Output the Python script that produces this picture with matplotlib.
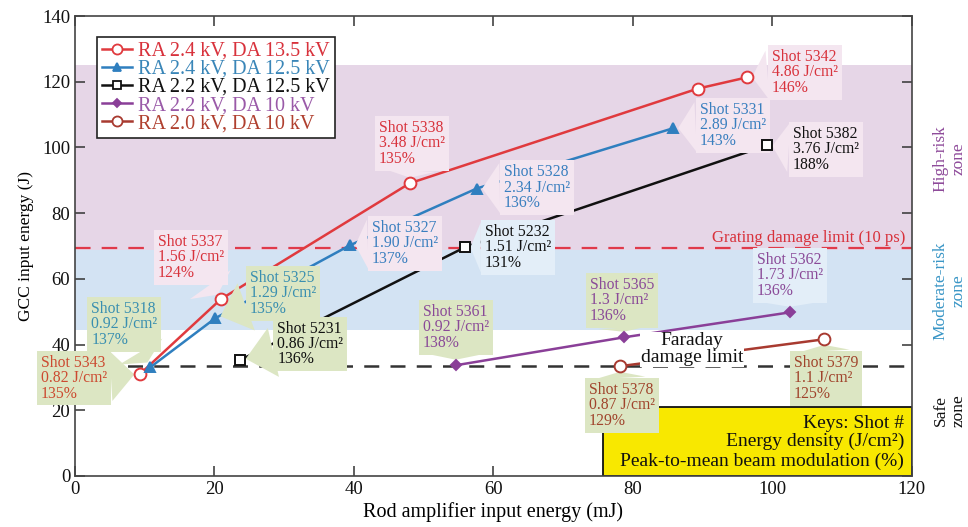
import matplotlib
matplotlib.use("Agg")
import matplotlib.pyplot as plt
from matplotlib.lines import Line2D
from matplotlib.patches import Rectangle

plt.rcParams['font.family'] = ['Liberation Serif', 'DejaVu Serif']

# ---------------- data ----------------
series_labels = ["RA 2.4 kV, DA 13.5 kV", "RA 2.4 kV, DA 12.5 kV", "RA 2.2 kV, DA 12.5 kV",
                 "RA 2.2 kV, DA 10 kV", "RA 2.0 kV, DA 10 kV"]
red_x = [9.3, 20.9, 48.0, 89.3, 96.3]
red_y = [31.0, 53.8, 89.1, 117.9, 121.3]
blue_x = [10.8, 20.1, 39.4, 57.6, 85.7]
blue_y = [33.1, 48.0, 70.2, 87.5, 105.8]
black_x = [23.7, 55.9, 99.2]
black_y = [35.3, 69.6, 100.6]
purple_x = [54.6, 78.7, 102.5]
purple_y = [33.7, 42.2, 49.8]
brown_x = [78.1, 107.4]
brown_y = [33.4, 41.6]

grating_limit = 69.5
faraday_limit = 33.6
high_risk_zone = (68.7, 125.0)
moderate_risk_zone = (44.4, 68.7)

keys_lines = ["Keys: Shot #", "Energy density (J/cm²)", "Peak-to-mean beam modulation (%)"]

# annotations: (series index, point index, shot, energy density, modulation)
shots = [
    (0, 0, "5343", "0.82", "135%"),
    (0, 1, "5337", "1.56", "124%"),
    (0, 2, "5338", "3.48", "135%"),
    (0, 4, "5342", "4.86", "146%"),
    (1, 0, "5318", "0.92", "137%"),
    (1, 1, "5325", "1.29", "135%"),
    (1, 2, "5327", "1.90", "137%"),
    (1, 3, "5328", "2.34", "136%"),
    (1, 4, "5331", "2.89", "143%"),
    (2, 0, "5231", "0.86", "136%"),
    (2, 1, "5232", "1.51", "131%"),
    (2, 2, "5382", "3.76", "188%"),
    (3, 0, "5361", "0.92", "138%"),
    (3, 1, "5365", "1.3", "136%"),
    (3, 2, "5362", "1.73", "136%"),
    (4, 0, "5378", "0.87", "129%"),
    (4, 1, "5379", "1.1", "125%"),
]

# ---------------- styles ----------------
line_colors = ['#e03a3e', '#2f7fbf', '#111111', '#8a3f98', '#a83a30']
legend_text_colors = ['#d8323c', '#3a86b8', '#111111', '#9a5aa8', '#b0402f']
PINK, GREEN, LBLUE = '#f4e6f0', '#dce6c3', '#e3eef8'
# per-annotation: offset of box centre in pixels (dx, dy), text colour, box colour
ann_style = {
    "5343": ((-66, -4), '#cc4a30', GREEN),
    "5337": ((-30, 42), '#d8323c', PINK),
    "5338": ((2, 40), '#d8323c', PINK),
    "5342": ((58, 5), '#d8323c', PINK),
    "5318": ((-26, 43), '#3a8fb0', GREEN),
    "5325": ((68, 25), '#3a8fb0', GREEN),
    "5327": ((55, 2), '#3a7fbf', PINK),
    "5328": ((60, 1), '#3a7fbf', PINK),
    "5331": ((60, 3), '#3a7fbf', PINK),
    "5231": ((70, 16), '#111111', GREEN),
    "5232": ((53, 0), '#111111', LBLUE),
    "5382": ((59, -4), '#111111', PINK),
    "5361": ((0, 38), '#8a4a98', GREEN),
    "5365": ((-2, 37), '#8a4a98', GREEN),
    "5362": ((0, 37), '#8a4a98', LBLUE),
    "5378": ((2, -39), '#a0442c', GREEN),
    "5379": ((2, -39), '#a0442c', GREEN),
}

fig = plt.figure(figsize=(9.68, 5.27), dpi=100)
ax = fig.add_axes([0.0775, 0.0968, 0.8645, 0.8728])
ax.set_xlim(0, 120)
ax.set_ylim(0, 140)

# zones
ax.axhspan(*high_risk_zone, color='#e6d6e7', zorder=0, lw=0)
ax.axhspan(*moderate_risk_zone, color='#d3e3f3', zorder=0, lw=0)

# limit lines
ax.axhline(grating_limit, color='#e03a4a', ls=(0, (7, 5)), lw=1.6, zorder=1)
ax.axhline(faraday_limit, color='#333333', ls=(0, (6, 4.5)), lw=1.8, zorder=1)

xs = [red_x, blue_x, black_x, purple_x, brown_x]
ys = [red_y, blue_y, black_y, purple_y, brown_y]
markers = ['o', '^', 's', 'D', 'o']
msizes = [8.5, 7, 7.5, 5, 8.5]
mfaces = ['white', line_colors[1], 'white', line_colors[3], 'white']

for i in range(5):
    ax.plot(xs[i], ys[i], color=line_colors[i], lw=1.8, zorder=2)
    ax.plot(xs[i], ys[i], ls='none', marker=markers[i], ms=msizes[i],
            mfc=mfaces[i], mec=line_colors[i], mew=1.4, zorder=6)

# Faraday text
ax.text(88.5, 38.6, "Faraday\ndamage limit", ha='center', va='center', fontsize=14,
        color='#111111', linespacing=0.95,
        bbox=dict(boxstyle='square,pad=0.05', fc='white', ec='none'), zorder=4)
ax.text(119, 72.3, "Grating damage limit (10 ps)", ha='right', va='center',
        fontsize=12, color='#d8323c', zorder=4)

# keys box
ax.add_patch(Rectangle((75.7, 0), 44.3, 21, fc='#f8e800', ec='#111111', lw=1.3, zorder=2.5))
for line, yk in zip(keys_lines, [15.9, 10.4, 4.6]):
    ax.text(118.9, yk, line, ha='right', va='center', fontsize=14, color='#111111',
            zorder=2.6)

# callouts
px2pt = 0.72
for si, pi, shot, dens, mod in shots:
    (dx, dy), tc, fc = ann_style[shot]
    txt = f"Shot {shot}\n{dens} J/cm²\n{mod}"
    ax.annotate(txt, xy=(xs[si][pi], ys[si][pi]), xytext=(dx * px2pt, dy * px2pt),
                textcoords='offset points', ha='center', va='center',
                multialignment='left',
                fontsize=11.3, color=tc, linespacing=0.95, zorder=3,
                bbox=dict(boxstyle='square,pad=0.25', fc=fc, ec='none'),
                arrowprops=dict(arrowstyle='wedge,tail_width=3.2', fc=fc, ec='none',
                                shrinkA=0, shrinkB=4))

# legend
handles = []
for i in range(5):
    handles.append(Line2D([], [], color=line_colors[i], lw=1.8, marker=markers[i],
                          ms=msizes[i] * 0.85, mfc=mfaces[i], mec=line_colors[i], mew=1.3))
leg = ax.legend(handles, series_labels, loc='upper left', bbox_to_anchor=(0.026, 0.955),
                borderaxespad=0, fontsize=14.5, frameon=True, fancybox=False,
                handlelength=1.5, handletextpad=0.3, labelspacing=-0.05,
                borderpad=0.25, framealpha=1)
leg.get_frame().set_edgecolor('#222222')
leg.get_frame().set_linewidth(1.2)
for t, c in zip(leg.get_texts(), legend_text_colors):
    t.set_color(c)
leg.set_zorder(7)

# zone labels
ax.text(1.045, 96.5, "High-risk\nzone", transform=ax.get_yaxis_transform(), rotation=90,
        ha='center', va='center', fontsize=12.5, color='#8e4a9a', linespacing=1.1)
ax.text(1.045, 56.5, "Moderate-risk\nzone", transform=ax.get_yaxis_transform(), rotation=90,
        ha='center', va='center', fontsize=12.5, color='#3a96c6', linespacing=1.1)
ax.text(1.045, 20.0, "Safe\nzone", transform=ax.get_yaxis_transform(), rotation=90,
        ha='center', va='center', fontsize=12.5, color='#111111', linespacing=1.1)

# axes styling
ax.set_xticks(range(0, 121, 20))
ax.set_yticks(range(0, 141, 20))
ax.tick_params(direction='in', length=7, width=1.1, labelsize=13.5, top=True, right=True,
               colors='#333333', labelcolor='#111111')
for s in ax.spines.values():
    s.set_color('#444444')
    s.set_linewidth(1.2)
ax.set_xlabel("Rod amplifier input energy (mJ)", fontsize=14.5, labelpad=3)
ax.set_ylabel("GCC input energy (J)", fontsize=12.5, labelpad=6)

fig.savefig("out.png", dpi=100)
